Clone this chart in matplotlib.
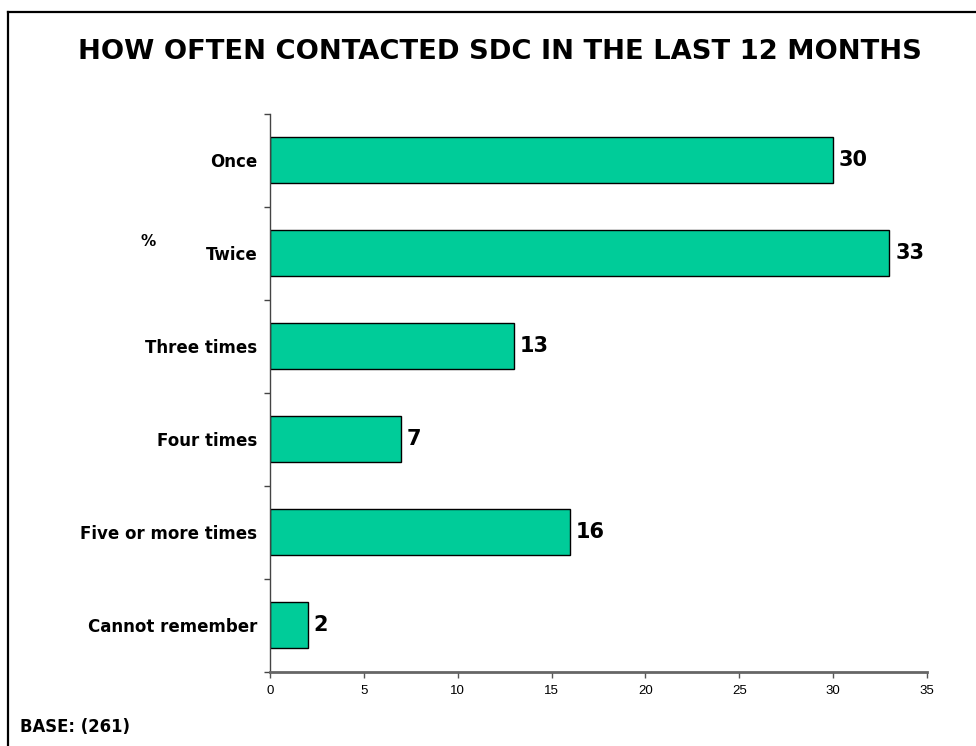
import matplotlib.pyplot as plt
from matplotlib.lines import Line2D
import numpy as np

categories = ['Once', 'Twice', 'Three times', 'Four times', 'Five or more times', 'Cannot remember']
values = [30, 33, 13, 7, 16, 2]
xticks = [0, 5, 10, 15, 20, 25, 30, 35]

fig = plt.figure(figsize=(9.76, 7.46), dpi=100)
ax = fig.add_axes([270/976, (746-671.5)/746, 657/976, 558/746])

y = np.arange(len(categories))
ax.barh(y, values, height=0.5, color='#00CC99', edgecolor='black', linewidth=1)

# etykiety wartosci
for yi, v in zip(y, values):
    ax.text(v + 0.3, yi, str(v), va='center', ha='left', fontsize=15,
            fontweight='bold', family='DejaVu Sans')

ax.set_ylim(len(categories) - 0.5, -0.5)
ax.set_xlim(0, 35)
ax.set_yticks(y)
ax.set_yticklabels(categories, fontsize=12, fontweight='bold', family='DejaVu Sans')
ax.tick_params(axis='y', which='major', length=0, pad=9)
ax.set_yticks(np.arange(-0.5, len(categories), 1.0), minor=True)
ax.tick_params(axis='y', which='minor', length=4, width=1, color='#444444', direction='out')

ax.set_xticks(xticks)
ax.set_xticklabels([str(t) for t in xticks], fontsize=9.5, family='Liberation Sans')
ax.tick_params(axis='x', length=4, width=1, color='#555555', direction='out', pad=6)

ax.spines['top'].set_visible(False)
ax.spines['right'].set_visible(False)
ax.spines['left'].set_color('#444444')
ax.spines['left'].set_linewidth(1)
ax.spines['bottom'].set_color('#666666')
ax.spines['bottom'].set_linewidth(2)

fig.text(500/976, 1 - 52/746, 'HOW OFTEN CONTACTED SDC IN THE LAST 12 MONTHS',
         ha='center', va='center', fontsize=19.7, fontweight='bold', family='DejaVu Sans')
fig.text(148/976, 1 - 242/746, '%', ha='center', va='center', fontsize=11, fontweight='bold')
fig.text(20/976, 1 - 727/746, 'BASE: (261)', ha='left', va='center', fontsize=11.9,
         fontweight='bold', family='DejaVu Sans')

# ramka
fig.add_artist(Line2D([8/976, 8/976], [0, 1 - 12/746], color='black', linewidth=1.6,
                      transform=fig.transFigure))
fig.add_artist(Line2D([8/976, 1], [1 - 12/746, 1 - 12/746], color='black', linewidth=1.6,
                      transform=fig.transFigure))

plt.savefig('out.png', dpi=100)
